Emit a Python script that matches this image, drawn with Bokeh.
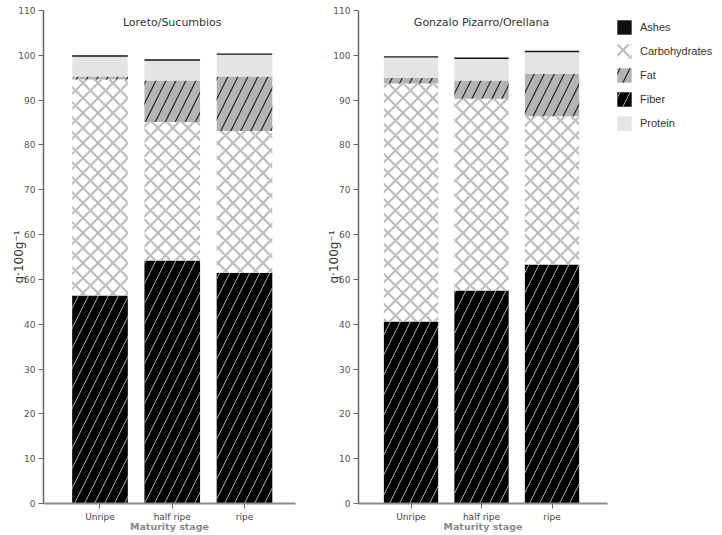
from bokeh.plotting import figure
from bokeh.models import (ColumnDataSource, FixedTicker, Label, Legend, LegendItem, Range1d)
from bokeh.layouts import row
from bokeh.embed import file_html
from bokeh.resources import INLINE

# ---- data ----
stages = ["Unripe", "half ripe", "ripe"]
components = ["Fiber", "Carbohydrates", "Fat", "Protein", "Ashes"]

loreto_fiber = [46.4, 54.2, 51.5]
loreto_carbohydrates = [48.2, 30.9, 31.6]
loreto_fat = [0.7, 9.3, 12.2]
loreto_protein = [4.4, 4.4, 4.8]
loreto_ashes = [0.3, 0.3, 0.3]

gonzalo_fiber = [40.6, 47.5, 53.3]
gonzalo_carbohydrates = [53.1, 42.8, 33.1]
gonzalo_fat = [1.3, 4.1, 9.5]
gonzalo_protein = [4.5, 4.8, 4.8]
gonzalo_ashes = [0.3, 0.3, 0.3]

y_ticks = [0, 10, 20, 30, 40, 50, 60, 70, 80, 90, 100, 110]

styles = {
    "Fiber": dict(fill_color="#000000", hatch_pattern="/", hatch_color="#a8a8a8", hatch_weight=1.0, hatch_scale=20),
    "Carbohydrates": dict(fill_color="#ffffff", hatch_pattern="x", hatch_color="#bdbdbd", hatch_weight=2.2, hatch_scale=15),
    "Fat": dict(fill_color="#b3b3b3", hatch_pattern="/", hatch_color="#222222", hatch_weight=1.2, hatch_scale=20),
    "Protein": dict(fill_color="#e4e4e4"),
    "Ashes": dict(fill_color="#111111"),
}


def make_panel(title, data, x_start, x_end, frame_w, border_left, border_right):
    p = figure(output_backend="svg", toolbar_location=None,
               x_range=Range1d(x_start, x_end), y_range=Range1d(0, 110),
               frame_width=frame_w, frame_height=493,
               min_border_left=border_left, min_border_right=border_right,
               min_border_top=10, min_border_bottom=0)
    p.outline_line_color = None
    p.grid.visible = False
    p.background_fill_color = "white"
    p.border_fill_color = "white"

    src = ColumnDataSource(dict(x=[0, 1, 2], **data))
    bottom = [0.0, 0.0, 0.0]
    renderers = {}
    for comp in components:
        vals = data[comp]
        top = [b + v for b, v in zip(bottom, vals)]
        src.data[comp + "_b"] = bottom
        src.data[comp + "_t"] = top
        r = p.vbar(x="x", bottom=comp + "_b", top=comp + "_t", width=0.77,
                   source=src, line_color=None, **styles[comp])
        renderers[comp] = r
        bottom = top

    p.add_layout(Label(x=1, y=107.4, text=title, text_align="center", text_baseline="middle",
                       text_font="DejaVu Sans", text_font_size="11px", text_color="#333333"))

    xa = p.xaxis[0]
    xa.ticker = FixedTicker(ticks=[0, 1, 2])
    xa.major_label_overrides = {i: s for i, s in enumerate(stages)}
    xa.minor_tick_line_color = None
    xa.axis_line_color = "#8c8c8c"
    xa.axis_line_width = 2
    xa.major_tick_line_color = "#666666"
    xa.major_tick_out = 5
    xa.major_tick_in = 0
    xa.major_label_standoff = 3
    xa.major_label_text_font = "DejaVu Sans"
    xa.major_label_text_font_size = "9px"
    xa.major_label_text_color = "#444444"
    xa.axis_label = "Maturity stage"
    xa.axis_label_text_font = "DejaVu Sans"
    xa.axis_label_text_font_style = "bold"
    xa.axis_label_text_font_size = "9.5px"
    xa.axis_label_text_color = "#8a8a8a"
    xa.axis_label_standoff = -4

    ya = p.yaxis[0]
    ya.ticker = FixedTicker(ticks=y_ticks)
    ya.minor_tick_line_color = None
    ya.axis_line_color = "#666666"
    ya.axis_line_width = 1.5
    ya.major_tick_line_color = "#666666"
    ya.major_tick_out = 5
    ya.major_tick_in = 0
    ya.major_label_standoff = 3
    ya.major_label_text_font = "DejaVu Sans"
    ya.major_label_text_font_size = "9px"
    ya.major_label_text_color = "#555555"
    ya.axis_label = "g·100g⁻¹"
    ya.axis_label_text_font = "DejaVu Sans"
    ya.axis_label_text_font_style = "normal"
    ya.axis_label_text_font_size = "12px"
    ya.axis_label_text_color = "#333333"
    ya.axis_label_standoff = -11
    return p, renderers


loreto = {"Fiber": loreto_fiber, "Carbohydrates": loreto_carbohydrates, "Fat": loreto_fat,
          "Protein": loreto_protein, "Ashes": loreto_ashes}
gonzalo = {"Fiber": gonzalo_fiber, "Carbohydrates": gonzalo_carbohydrates, "Fat": gonzalo_fat,
           "Protein": gonzalo_protein, "Ashes": gonzalo_ashes}

p1, _ = make_panel("Loreto/Sucumbios", loreto, -0.782, 2.706, 252, 43, 10)
p2, rr = make_panel("Gonzalo Pizarro/Orellana", gonzalo, -0.745, 2.787, 249, 53, 0)

legend_order = ["Ashes", "Carbohydrates", "Fat", "Fiber", "Protein"]
legend = Legend(items=[LegendItem(label=c, renderers=[rr[c]]) for c in legend_order],
                location="top_left", border_line_color=None, background_fill_alpha=0,
                glyph_width=18, glyph_height=18, label_standoff=7, spacing=6,
                padding=0, margin=8,
                label_text_font="Liberation Sans", label_text_font_size="11px",
                label_text_color="#333333")
p2.add_layout(legend, "right")

layout = row(p1, p2)
open("out.html", "w").write(file_html(layout, INLINE))
